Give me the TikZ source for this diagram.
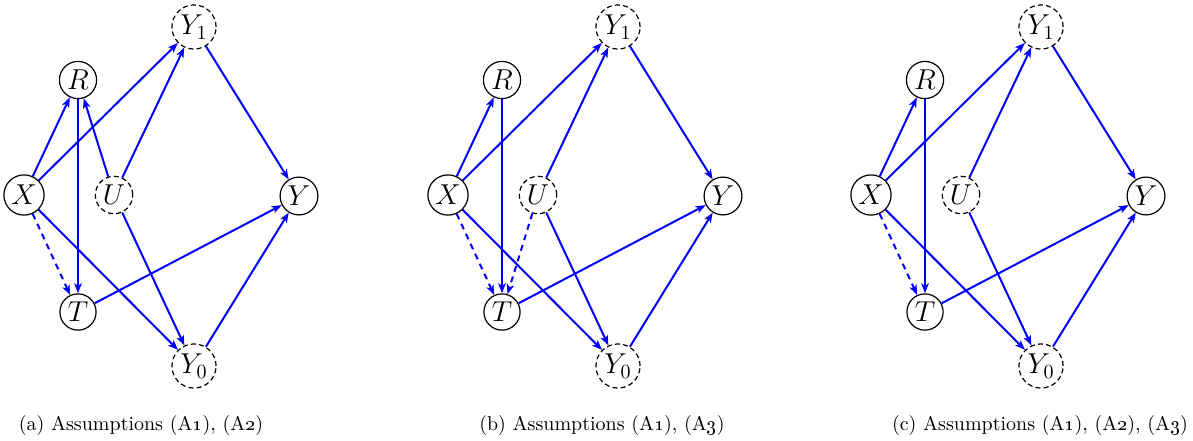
\documentclass[tikz,border=0pt]{standalone}
\usetikzlibrary{arrows.meta}
\tikzset{
  var/.style={circle,draw,line width=0.6pt,inner sep=1.4pt,font=\fontsize{14}{17}\selectfont},
  lat/.style={var,dash pattern=on 2.5pt off 1.6pt},
  edge/.style={draw=blue,line width=1pt,-{Stealth[length=5pt,width=3.8pt,inset=1.3pt]}},
  dedge/.style={edge,dash pattern=on 3pt off 2.5pt},
  capt/.style={anchor=base,font=\fontsize{10}{12}\selectfont}
}
\newcommand\panelnodes[2]{%
  \begin{scope}[shift={(#2,0)}]
    \node[var] (#1X) at (24,195) {$X$};
    \node[var] (#1R) at (78,80) {$R$};
    \node[lat,minimum size=18pt] (#1U) at (114,195) {$U$};
    \node[lat] (#1Ya) at (194,27) {$Y_1$};
    \node[var] (#1Y) at (299,196) {$Y$};
    \node[var] (#1T) at (78,312) {$T$};
    \node[lat] (#1Yo) at (194,366) {$Y_0$};
  \end{scope}}
\begin{document}
\begin{tikzpicture}[x=0.5pt,y=-0.5pt]
\useasboundingbox (0,0) rectangle (1193,440);
\panelnodes{a}{0}
\panelnodes{b}{424}
\panelnodes{c}{847}
% panel a
\draw[edge] (aX) -- (aR);
\draw[edge] (aX) -- (aYa);
\draw[edge] (aX) -- (aYo);
\draw[dedge] (aX) -- (aT);
\draw[edge] (aR) -- (aT);
\draw[edge] (aU) -- (aR);
\draw[edge] (aU) -- (aYa);
\draw[edge] (aU) -- (aYo);
\draw[edge] (aYa) -- (aY);
\draw[edge] (aT) -- (aY);
\draw[edge] (aYo) -- (aY);
% panel b
\draw[edge] (bX) -- (bR);
\draw[edge] (bX) -- (bYa);
\draw[edge] (bX) -- (bYo);
\draw[dedge] (bX) -- (bT);
\draw[edge] (bR) -- (bT);
\draw[dedge] (bU) -- (bT);
\draw[edge] (bU) -- (bYa);
\draw[edge] (bU) -- (bYo);
\draw[edge] (bYa) -- (bY);
\draw[edge] (bT) -- (bY);
\draw[edge] (bYo) -- (bY);
% panel c
\draw[edge] (cX) -- (cR);
\draw[edge] (cX) -- (cYa);
\draw[edge] (cX) -- (cYo);
\draw[dedge] (cX) -- (cT);
\draw[edge] (cR) -- (cT);
\draw[edge] (cU) -- (cYa);
\draw[edge] (cU) -- (cYo);
\draw[edge] (cYa) -- (cY);
\draw[edge] (cT) -- (cY);
\draw[edge] (cYo) -- (cY);
% captions
\node[capt] (capa) at (141,430) {(a) Assumptions (A\oldstylenums{1}), (A\oldstylenums{2})};
\node[capt] (capb) at (602,430) {(b) Assumptions (A\oldstylenums{1}), (A\oldstylenums{3})};
\node[capt] (capc) at (1040,430) {(c) Assumptions (A\oldstylenums{1}), (A\oldstylenums{2}), (A\oldstylenums{3})};
\end{tikzpicture}
\end{document}
